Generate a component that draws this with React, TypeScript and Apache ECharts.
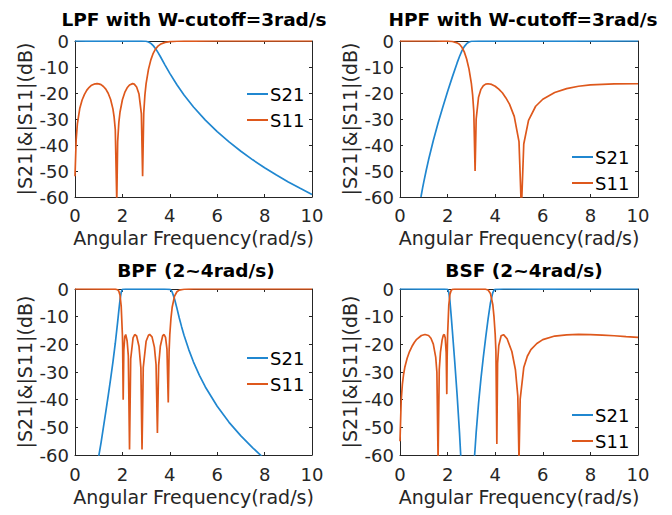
import React, { useEffect, useRef } from "react";
import * as echarts from "echarts";

// ---------------- data ----------------
const xTicks = [0, 2, 4, 6, 8, 10];
const yTicks = [-60, -50, -40, -30, -20, -10, 0];

const titles = ["LPF with W-cutoff=3rad/s", "HPF with W-cutoff=3rad/s", "BPF (2~4rad/s)", "BSF (2~4rad/s)"];
const seriesNames = ["S21", "S11"];

// LPF
const lpfS21X = [0, 0.5, 0.93, 1.5, 2.43, 2.8, 3.0, 3.1, 3.2, 3.3, 3.4, 3.5, 3.6, 3.8, 4.0, 4.3, 4.6, 5.0, 5.5, 6.0, 6.5, 7.0, 7.5, 8.0, 8.5, 9.0, 9.5, 10];
const lpfS21Y = [0, -0.05, 0, -0.07, 0, -0.02, -0.1, -0.37, -0.91, -1.78, -2.95, -4.39, -5.97, -9.25, -12.46, -16.84, -20.76, -25.37, -30.42, -34.85, -38.81, -42.41, -45.7, -48.74, -51.56, -54.2, -56.68, -59.03];
const lpfS11X = [0, 0.05, 0.1, 0.2, 0.3, 0.4, 0.5, 0.6, 0.7, 0.8, 0.93, 1.0, 1.1, 1.2, 1.3, 1.4, 1.5, 1.6, 1.65, 1.7, 1.763, 1.8, 1.85, 1.9, 2.0, 2.1, 2.2, 2.3, 2.43, 2.5, 2.6, 2.7, 2.8, 2.853, 2.9, 2.95, 3.0, 3.1, 3.2, 3.3, 3.4, 3.5, 3.6, 3.8, 4.0, 4.3, 4.6, 5.0, 6.0, 8.0, 10];
const lpfS11Y = [-52, -37.9, -31.9, -26.0, -22.7, -20.5, -18.9, -17.8, -17.0, -16.6, -16.4, -16.5, -16.8, -17.5, -18.5, -20.1, -22.4, -26.1, -29.2, -34.1, -62, -38.7, -31.3, -27.3, -22.6, -19.8, -18.0, -16.9, -16.4, -16.6, -17.7, -20.4, -27.9, -52, -27.7, -20.7, -16.4, -10.9, -7.25, -4.74, -3.06, -1.97, -1.28, -0.54, -0.25, -0.09, -0.04, -0.01, 0, 0, 0];

// HPF
const hpfS21X = [0.88, 0.95, 1.0, 1.1, 1.2, 1.4, 1.6, 1.8, 2.0, 2.2, 2.4, 2.5, 2.6, 2.7, 2.8, 2.9, 3.0, 3.3, 3.7, 4.0, 5.1, 7.0, 10];
const hpfS21Y = [-60, -56.5, -54.2, -49.8, -45.7, -38.25, -31.55, -25.37, -19.45, -13.8, -8.43, -5.97, -3.83, -2.16, -1.03, -0.38, -0.1, -0.05, 0, -0.07, 0, -0.05, 0];
const hpfS11X = [0, 1.5, 1.8, 2.0, 2.2, 2.4, 2.5, 2.6, 2.7, 2.8, 2.9, 3.0, 3.05, 3.1, 3.155, 3.2, 3.3, 3.4, 3.5, 3.6, 3.7, 3.85, 4.0, 4.15, 4.3, 4.45, 4.6, 4.8, 5.0, 5.1, 5.2, 5.4, 5.7, 6.0, 6.5, 7.0, 7.5, 8.0, 9.0, 10];
const hpfS11Y = [0, 0, -0.01, -0.05, -0.2, -0.72, -1.28, -2.4, -4.18, -6.9, -10.8, -16.43, -20.6, -27.0, -50, -30.1, -21.6, -18.6, -17.2, -16.6, -16.43, -16.7, -17.4, -18.5, -19.9, -21.9, -24.3, -29.0, -38.7, -65, -39.6, -30.5, -25.1, -22.4, -19.8, -18.3, -17.4, -16.9, -16.5, -16.44];

// BPF
const bpfS21X = [0.9, 1.0, 1.1, 1.2, 1.3, 1.4, 1.5, 1.6, 1.7, 1.8, 1.85, 1.9, 1.95, 2.0, 2.14, 2.3, 2.52, 2.83, 3.15, 3.48, 3.76, 4.0, 4.05, 4.1, 4.2, 4.3, 4.4, 4.5, 4.6, 4.8, 5.0, 5.25, 5.5, 6.0, 6.5, 7.0, 7.5, 7.85, 8.0];
const bpfS21Y = [-66, -60.5, -55.5, -49.9, -44.3, -38.6, -32.7, -26.4, -19.6, -11.9, -7.7, -3.9, -1.15, -0.1, 0, -0.02, 0, -0.02, 0, -0.02, 0, -0.1, -0.43, -1.1, -3.6, -6.9, -10.5, -13.7, -16.7, -21.9, -26.4, -31.2, -35.4, -42.4, -48.2, -53.1, -57.4, -60.2, -61.4];
const bpfS11X = [0, 1.7, 1.8, 1.85, 1.9, 1.95, 2.0, 2.01, 2.033, 2.06, 2.1, 2.14, 2.2, 2.25, 2.301, 2.35, 2.45, 2.52, 2.6, 2.7, 2.78, 2.828, 2.88, 3.0, 3.1, 3.15, 3.25, 3.35, 3.42, 3.477, 3.53, 3.6, 3.7, 3.76, 3.82, 3.88, 3.935, 3.97, 4.0, 4.05, 4.1, 4.2, 4.3, 4.4, 4.6, 4.8, 5.0, 10];
const bpfS11Y = [0, -0.05, -0.28, -0.85, -2.3, -6.3, -16.43, -20.2, -40, -22.1, -17.2, -16.45, -18.8, -24.2, -58, -25.3, -17.7, -16.45, -17.0, -20.7, -28.6, -58, -28.3, -18.9, -16.7, -16.43, -17.3, -21.0, -27.3, -52, -27.6, -20.7, -16.9, -16.45, -17.5, -21.7, -41, -22.7, -16.43, -10.5, -6.6, -2.6, -1.0, -0.42, -0.09, -0.02, 0, 0];

// BSF
const bsfS21X = [0, 1.0, 1.86, 2.0, 2.05, 2.1, 2.15, 2.2, 2.3, 2.4, 2.5, 2.55, 2.6, 2.7, 2.95, 3.1, 3.15, 3.2, 3.3, 3.4, 3.5, 3.6, 3.7, 3.8, 3.9, 3.95, 4.0, 4.35, 6.0, 10];
const bsfS21Y = [0, -0.01, 0, -0.1, -1.2, -4.5, -9.6, -15.1, -26.3, -38.3, -51.9, -60, -65, -80, -80, -64, -58.3, -51.9, -41.4, -32.5, -24.7, -17.6, -10.9, -5.0, -1.3, -0.45, -0.1, 0, -0.05, 0];
const bsfS11X = [0, 0.05, 0.1, 0.15, 0.2, 0.3, 0.4, 0.5, 0.6, 0.7, 0.9, 1.05, 1.2, 1.3, 1.4, 1.5, 1.55, 1.6, 1.65, 1.7, 1.77, 1.82, 1.86, 1.9, 1.94, 1.966, 1.98, 2.0, 2.05, 2.1, 2.15, 2.2, 2.3, 3.6, 3.7, 3.8, 3.9, 3.95, 4.0, 4.03, 4.069, 4.1, 4.15, 4.25, 4.35, 4.5, 4.7, 4.85, 4.95, 5.0, 5.05, 5.2, 5.35, 5.5, 5.75, 6.0, 6.5, 7.0, 7.5, 8.0, 8.5, 9.0, 9.5, 10];
const bsfS11Y = [-55, -40.4, -34.4, -30.9, -28.4, -25.0, -22.6, -20.8, -19.35, -18.2, -16.8, -16.43, -16.8, -17.8, -19.9, -24.6, -30.1, -62, -29.1, -22.8, -18.4, -16.7, -16.45, -17.6, -22.9, -38, -25.4, -16.43, -5.9, -1.9, -0.5, -0.15, 0, -0.08, -0.38, -1.6, -5.7, -10.1, -16.43, -22.4, -56, -26.9, -20.4, -16.9, -16.5, -18.0, -22.6, -29.2, -38.7, -62, -39.8, -28.4, -24.3, -21.9, -19.7, -18.3, -17.0, -16.55, -16.43, -16.5, -16.7, -16.9, -17.2, -17.45];

const panelData = [
  [[lpfS21X, lpfS21Y], [lpfS11X, lpfS11Y]],
  [[hpfS21X, hpfS21Y], [hpfS11X, hpfS11Y]],
  [[bpfS21X, bpfS21Y], [bpfS11X, bpfS11Y]],
  [[bsfS21X, bsfS21Y], [bsfS11X, bsfS11Y]],
];

// ---------------- layout / style ----------------
const FONT = '"DejaVu Sans", "Liberation Sans", sans-serif';
const AX = "#262626";
const COLORS = ["#2087D0", "#DE581C"];
const grids = [
  { left: 75, top: 41, width: 237, height: 156 },
  { left: 400, top: 41, width: 238, height: 156 },
  { left: 75, top: 289, width: 237, height: 166 },
  { left: 400, top: 289, width: 238, height: 166 },
];
const titleCenters = [189, 518, 191, 519];
const titleTops = [5, 5, 256, 256];
const legendPos = [
  { left: 247, top: 85 },
  { left: 572, top: 148 },
  { left: 247, top: 349 },
  { left: 572, top: 406 },
];

function zip(xs: number[], ys: number[]) {
  return xs.map((x, i) => [x, ys[i]]);
}

export default function App() {
  const ref = useRef<HTMLDivElement>(null);
  useEffect(() => {
    if (!ref.current) return;
    const chart = echarts.init(ref.current, undefined, { renderer: "svg" });
    const xAxis: any[] = [];
    const yAxis: any[] = [];
    const series: any[] = [];
    const title: any[] = [];
    const legend: any[] = [];
    grids.forEach((g, i) => {
      const common = {
        gridIndex: i,
        type: "value",
        min: 0,
        max: 10,
        interval: 2,
        splitLine: { show: false },
        axisLine: { show: true, onZero: false, lineStyle: { color: AX, width: 1 } },
        axisTick: { show: true, inside: true, length: 3, lineStyle: { color: AX } },
      };
      xAxis.push({
        ...common,
        position: "bottom",
        name: "Angular Frequency(rad/s)",
        nameLocation: "middle",
        nameGap: i < 2 ? 31 : 32,
        nameTextStyle: { fontFamily: FONT, fontSize: 19, color: AX },
        axisLabel: { show: true, margin: i < 2 ? 9 : 10, fontFamily: FONT, fontSize: 18, color: AX, formatter: (v: number) => (xTicks.includes(v) ? String(v) : "") },
      });
      xAxis.push({ ...common, position: "top", axisLabel: { show: false } });
      const ycommon = {
        gridIndex: i,
        type: "value",
        min: -60,
        max: 0,
        interval: 10,
        splitLine: { show: false },
        axisLine: { show: true, onZero: false, lineStyle: { color: AX, width: 1 } },
        axisTick: { show: true, inside: true, length: 3, lineStyle: { color: AX } },
      };
      yAxis.push({
        ...ycommon,
        position: "left",
        name: "|S21|&|S11|(dB)",
        nameLocation: "middle",
        nameGap: 41,
        nameTextStyle: { fontFamily: FONT, fontSize: 19, color: AX },
        axisLabel: { show: true, margin: 6, fontFamily: FONT, fontSize: 18, color: AX, formatter: (v: number) => (yTicks.includes(v) ? String(v) : "") },
      });
      yAxis.push({ ...ycommon, position: "right", axisLabel: { show: false } });
      panelData[i].forEach((d, k) => {
        series.push({
          type: "line",
          name: seriesNames[k],
          xAxisIndex: 2 * i,
          yAxisIndex: 2 * i,
          data: zip(d[0], d[1]),
          showSymbol: false,
          symbol: "none",
          clip: true,
          z: 3 + k,
          lineStyle: { color: COLORS[k], width: 1.7 },
          itemStyle: { color: COLORS[k] },
        });
      });
      title.push({
        text: titles[i],
        left: titleCenters[i],
        top: titleTops[i],
        textAlign: "center",
        textStyle: { fontFamily: FONT, fontSize: 18.5, fontWeight: "bold", color: "#000" },
      });
      legend.push({
        data: seriesNames.map((n) => ({ name: n, icon: "rect" })),
        orient: "vertical",
        left: legendPos[i].left,
        top: legendPos[i].top,
        itemWidth: 21,
        itemHeight: 2,
        itemGap: 8,
        padding: 0,
        selectedMode: false,
        textStyle: { fontFamily: FONT, fontSize: 18, color: "#000", lineHeight: 18, padding: [0, 0, 0, -3] },
      });
    });
    chart.setOption({
      animation: false,
      backgroundColor: "#fff",
      title,
      legend,
      grid: grids,
      xAxis,
      yAxis,
      series,
    });
    return () => chart.dispose();
  }, []);
  return <div ref={ref} style={{ position: "fixed", left: 0, top: 0, width: 672, height: 515 }} />;
}
